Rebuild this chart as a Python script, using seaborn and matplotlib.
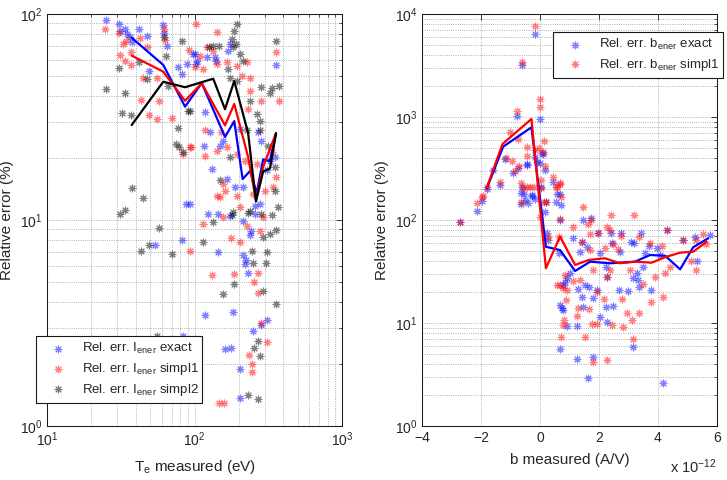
import numpy as np
import matplotlib.pyplot as plt
import seaborn as sns

sns.set_theme(context='paper', style='white')
plt.rcParams['font.family'] = ['Liberation Sans', 'DejaVu Sans']
plt.rcParams['mathtext.fontset'] = 'custom'
plt.rcParams['mathtext.rm'] = 'Liberation Sans'
plt.rcParams['mathtext.it'] = 'Liberation Sans:italic'
plt.rcParams['mathtext.bf'] = 'Liberation Sans:bold'
plt.rcParams['mathtext.sf'] = 'Liberation Sans'
plt.rcParams['axes.edgecolor'] = 'k'
plt.rcParams['axes.linewidth'] = 0.75

BLUE, RED, BLACK = '#0000ff', '#ff0000', '#000000'

# ---- left panel: relative error vs Te ----
te_exact = [25.1, 30.6, 31.3, 33.8, 35.1, 36.5, 37.6, 42.2, 47.8, 61.4, 62.1, 65.4, 49.3, 77.6, 88.6, 82.0,
            100.8, 101.8, 88, 174, 169, 98, 103.5, 121, 137.7, 140, 359, 117.8, 127.4, 157, 149, 203.5, 270,
            284, 351, 325, 308, 130.7, 165, 188, 214, 257, 278, 93, 124, 145, 174, 257, 116, 212, 240, 238,
            144, 214, 223, 220, 231, 54, 82, 84, 118, 182, 310, 248, 161, 176, 203, 203, 284]
err_exact = [93.2, 89.4, 82.9, 84.6, 80, 77.4, 72.8, 85, 78, 88, 80.5, 70.2, 52.7, 55.5, 57.5, 51.2,
             63.9, 57.2, 12, 71.5, 66.3, 63.9, 59.3, 61.5, 61.5, 59.3, 56.8, 33.6, 26.7, 24.2, 22.9, 27.7, 26.7,
             24.2, 20.2, 19.4, 17.4, 17.7, 15.8, 14.4, 14.4, 11.7, 12, 12, 10.7, 10.7, 10.5, 10.7, 22.9, 9.9, 8.85, 8.45,
             7, 6.8, 6.4, 6.1, 5.5, 7.6, 8, 2.73, 3.44, 3.56, 3.27, 2.9, 2.36, 2.4, 1.89, 1.36, 3.1]

te_simpl1 = [24.7, 30.9, 32.6, 34.3, 31.3, 33.8, 37.2, 37.1, 42.7, 47.8, 44.6, 55.5, 43.2, 49.3, 56, 57.8,
             70.3, 62.1, 63.1, 92, 102.4, 94.4, 83.3, 141.4, 355, 121, 134, 109, 141.4, 165, 193, 226, 209,
             238, 100.8, 115, 376, 238, 231, 284, 118, 152, 141.4, 118, 93, 165, 193, 220, 264, 333, 357, 343,
             157, 161, 141.4, 149, 193, 251, 300, 203.5, 292, 157, 115, 226, 278, 177, 203.5, 93, 132, 186,
             270, 253, 270, 284, 310, 234, 245, 245, 147, 158]
err_simpl1 = [84.6, 81.3, 71.5, 74.2, 63.2, 59.3, 56.3, 65.2, 76.5, 68.9, 49.1, 49.1, 38.2, 32.4, 30.9, 37.9,
              31.2, 84.6, 74.8, 66.9, 89.4, 22.7, 20.9, 82.1, 65.3, 69.1, 66.3, 62.7, 57.2, 58.3, 56.2, 58.3, 50.2,
              49.1, 55.1, 54.1, 37.7, 42.4, 34.6, 37.7, 27.2, 26.7, 21.7, 20.5, 22.7, 22.5, 20.9, 19.3, 18.7, 21.3,
              16.1, 14.4, 15, 13.9, 13.1, 13, 13.1, 13.4, 13.9, 11.5, 10.3, 10.3, 9.6, 9.3, 8.8, 8.15, 7.85, 7.05,
              5.4, 5.45, 5.5, 5.0, 4.4, 3.15, 2.55, 2.21, 2.0, 1.82, 1.29, 1.3]

te_simpl2 = [25, 30.9, 34, 32.2, 37.1, 42.2, 47.3, 62.1, 82, 63.8, 65.9, 77.6, 75.4, 78.8, 83.3, 37.6, 44.6,
             31.3, 34, 90.6, 193, 185, 180, 191, 181, 357, 203.5, 214, 147, 134, 126, 281, 333, 376, 325, 169,
             174, 193, 93, 238, 264, 278, 226, 278, 316, 351, 174, 149, 351, 371, 183, 238, 282, 132.8, 179,
             231, 333, 355, 292, 325, 115, 244, 310, 248, 305, 186, 157, 290, 357, 270, 254, 278, 229, 270,
             57.8, 49.3, 43.4, 70.3, 55.5]
err_simpl2 = [43.1, 54.7, 41.3, 33.2, 32.4, 58.3, 48.3, 77.2, 74.2, 62.5, 44.8, 27.9, 23.4, 22.5, 21.5, 14.3,
              12.8, 10.7, 11.2, 33.9, 89, 83, 75.4, 71.5, 69, 74, 63.9, 59.3, 69.7, 69.7, 69, 44.4, 43.6, 44.8,
              41.4, 54.1, 49.1, 47.5, 34, 38, 32.7, 30.4, 27.2, 27.2, 22.9, 18, 20.2, 15.7, 13.8, 11.5, 10.9, 11.1,
              10.7, 9.75, 10.6, 10.8, 10.6, 8.95, 8.25, 8.55, 7.8, 7.05, 6.99, 6.15, 6.15, 4.88, 4.36, 4.54, 3.9,
              2.6, 2.38, 2.19, 1.41, 1.35, 9.1, 7.6, 7.05, 6.84, 2.73]

# binned means (lines)
bin_te_exact = [37.5, 61.4, 86.3, 112, 161, 186, 212, 238, 264, 292, 324, 357]
bin_err_exact = [76.7, 56.6, 35.5, 46.2, 25.3, 30.2, 15.8, 17.3, 13.5, 19.7, 19.3, 26.2]
bin_te_simpl1 = [37.5, 61.4, 86.3, 112, 161, 186, 231, 261, 292, 357]
bin_err_simpl1 = [62.8, 52.5, 37.9, 46.1, 28.8, 36.6, 20.2, 12.5, 18.1, 26.4]
bin_te_simpl2 = [37.5, 61.4, 86.3, 134, 161, 186, 231, 261, 292, 325, 357]
bin_err_simpl2 = [28.9, 46.9, 44.1, 48.5, 34.5, 47.3, 26.4, 12.3, 17.2, 17.8, 26.4]

# ---- right panel: relative error vs b (units of 1e-12 A/V) ----
b_exact = [-2.72, -2.15, -1.96, -1.81, -1.58, -1.19, -0.79, -0.62, -0.16, 0.0, -0.93, -0.74, -0.45, -0.17,
           -0.11, 0.0, 0.06, 0.09, 0.17, -1.36, -0.64, -0.51, -0.28, -0.64, 0.44, 0.68, 0.72, -0.44, -0.27,
           -0.41, -0.16, 0.04, 0.20, 0.58, 0.54, -0.55, -0.61, 0.18, 0.24, 0.27, 0.63, 1.13, 1.47, 1.72, 1.98,
           2.41, 2.74, 3.41, 4.29, 4.86, 5.25, 5.76, 1.41, 1.58, 1.36, 2.03, 2.43, 2.71, 3.07, 3.19, 3.69, 3.56,
           3.98, 4.07, 5.31, 2.24, 0.90, 1.02, 0.85, 0.77, 1.53, 1.67, 1.30, 1.92, 2.28, 1.41, 1.81, 1.47, 0.68,
           0.74, 0.79, 2.03, 0.90, 1.26, 2.24, 2.46, 2.28, 2.69, 2.97, 3.14, 3.30, 3.31, 3.37, 3.75, 3.50, 0.68,
           1.26, 1.79, 3.14, 1.64, 4.16, 0.69]
err_b_exact = [96, 123, 153, 199, 306, 388, 1030, 3200, 6330, 956, 288, 318, 342, 412, 363, 360, 444, 434, 306,
               219, 182, 156, 175, 143, 235, 178, 140, 350, 172, 146, 160, 208, 151, 179, 149, 179, 208, 120, 74.3,
               63.9, 47.5, 66.4, 100, 104, 75, 74.3, 75.3, 75.3, 80, 64, 68, 71.5, 61, 55, 49, 48, 60, 49, 61.5, 60,
               56, 47.5, 53, 45.7, 40.3, 34.7, 27.6, 30.8, 25.2, 23.4, 23.4, 22.2, 21.2, 20.9, 27.8, 18, 17.4, 14.4,
               15, 13.9, 13.4, 11.4, 9.35, 9.35, 14.4, 14.6, 10.3, 20.9, 20.6, 27.6, 30.8, 26.1, 22.2, 20.9, 35.2,
               5.6, 4.44, 4.71, 5.81, 2.9, 2.6, 100]

b_simpl1 = [-2.72, -2.14, -1.98, -1.81, -1.16, -0.94, -0.79, -0.62, -0.17, 0.0, 0.0, -1.02, -0.74, -0.45, -0.85,
            -0.72, -0.45, -0.17, -0.03, 0.09, 0.15, 0.17, -1.36, -0.64, -0.57, -0.45, -0.34, -0.20, -0.65, 0.05,
            0.05, 0.44, 0.54, 0.68, 0.72, 0.15, -1.94, 0.20, 0.58, 0.69, 1.47, 2.41, 3.19, 0.69, 0.01, 0.27, 0.63,
            1.13, 1.64, 1.69, 1.98, 2.37, 2.26, 2.75, 3.37, 4.29, 4.86, 5.28, 5.54, 5.63, 1.41, 1.69, 2.20, 2.47,
            2.65, 3.73, 4.13, 4.41, 5.11, 5.29, 2.37, 1.79, 0.85, 0.56, 0.68, 0.79, 0.90, 0.88, 1.13, 1.36, 1.92,
            2.26, 2.18, 1.29, 1.67, 1.26, 0.82, 0.79, 1.75, 1.92, 2.43, 2.80, 3.11, 2.96, 3.37, 2.77, 3.05, 3.50,
            3.76, 4.16, 3.90, 4.24, 0.71, 1.53, 1.79, 2.28, 3.14, 1.73]
err_b_simpl1 = [96, 145, 168, 208, 403, 376, 1143, 3440, 7650, 1495, 1243, 710, 607, 515, 301, 334, 418, 478,
                497, 460, 589, 337, 235, 227, 203, 208, 208, 207, 150, 203, 244, 263, 207, 230, 168, 149, 172, 151,
                208, 224, 133, 113, 112, 102, 108, 69, 69, 85, 91, 73, 75, 80, 86, 70, 69, 80, 64, 64, 73, 59, 61.5,
                51, 53, 58, 52, 59.4, 56, 35.2, 40.3, 32.7, 32.7, 32.7, 29.2, 23.4, 23.4, 21.7, 20.9, 16.7, 25.7,
                26.1, 20.2, 28.2, 17, 13.9, 13.6, 11.7, 10.7, 9.55, 9.8, 9.8, 9.55, 9.1, 10.7, 12.4, 12.4, 17, 32.7,
                23.9, 16.1, 17.7, 27.8, 30.8, 7.36, 7.36, 4.21, 4.37, 6.95, 100]

bin_b_exact = [-1.80, -1.25, -0.29, 0.20, 0.68, 1.19, 1.70, 2.37, 3.22, 3.73, 4.24, 4.75, 5.19, 5.70]
bin_err_b_exact = [203, 515, 794, 55, 51, 32, 39.4, 38, 39.4, 45.7, 45, 33.2, 54.3, 66.4]
bin_b_simpl1 = [-1.80, -1.27, -0.29, 0.20, 0.68, 1.19, 1.65, 2.20, 2.71, 3.22, 3.78, 4.29, 4.75, 5.19, 5.65]
bin_err_b_simpl1 = [208, 547, 957, 34, 69, 36.6, 40.9, 42.5, 38, 39.4, 38.5, 44, 48.2, 49.2, 61.5]

fig = plt.figure(figsize=(7.27, 4.8), dpi=100)
ax1 = fig.add_axes([47 / 727, 54 / 480, 295 / 727, 412 / 480])
ax2 = fig.add_axes([422 / 727, 54 / 480, 295 / 727, 412 / 480])

star = (8, 2, 0)
sk = dict(marker=star, s=24, linewidth=0.8, alpha=0.5)

# left
ax1.set_xscale('log')
ax1.set_yscale('log')
sns.scatterplot(x=te_exact, y=err_exact, color=BLUE, ax=ax1, **sk)
sns.scatterplot(x=te_simpl1, y=err_simpl1, color=RED, ax=ax1, **sk)
sns.scatterplot(x=te_simpl2, y=err_simpl2, color=BLACK, ax=ax1, **sk)
sns.lineplot(x=bin_te_exact, y=bin_err_exact, color=BLUE, lw=1.6, estimator=None, sort=False, ax=ax1)
sns.lineplot(x=bin_te_simpl1, y=bin_err_simpl1, color=RED, lw=1.6, estimator=None, sort=False, ax=ax1)
sns.lineplot(x=bin_te_simpl2, y=bin_err_simpl2, color=BLACK, lw=1.6, estimator=None, sort=False, ax=ax1)
ax1.set_xlim(10, 1000)
ax1.set_ylim(1, 100)
ax1.set_xlabel(r'T$_{\rm e}$ measured (eV)', fontsize=11, labelpad=6)
ax1.set_ylabel('Relative error (%)', fontsize=11, labelpad=4)

leg_labels1 = [r'Rel. err. I$_{\rm ener}$ exact', r'Rel. err. I$_{\rm ener}$ simpl1',
               r'Rel. err. I$_{\rm ener}$ simpl2']
leg1 = ax1.legend(handles=ax1.collections[:3], labels=leg_labels1, loc='lower left',
                  bbox_to_anchor=(-11 / 295, 23 / 412, 166 / 295, 60 / 412), mode='expand',
                  borderaxespad=0, fontsize=9.5, handlelength=2.6, handletextpad=0.5,
                  labelspacing=0.35, fancybox=False, edgecolor='k', framealpha=1)
leg1.get_frame().set_linewidth(0.8)

# right
ax2.set_yscale('log')
sns.scatterplot(x=b_exact, y=err_b_exact, color=BLUE, ax=ax2, **sk)
sns.scatterplot(x=b_simpl1, y=err_b_simpl1, color=RED, ax=ax2, **sk)
sns.lineplot(x=bin_b_exact, y=bin_err_b_exact, color=BLUE, lw=1.6, estimator=None, sort=False, ax=ax2)
sns.lineplot(x=bin_b_simpl1, y=bin_err_b_simpl1, color=RED, lw=1.6, estimator=None, sort=False, ax=ax2)
ax2.set_xlim(-4, 6)
ax2.set_ylim(1, 1e4)
ax2.set_xticks([-4, -2, 0, 2, 4, 6])
ax2.set_xticklabels(['\u22124', '\u22122', '0', '2', '4', '6'])
ax2.set_xlabel('b measured (A/V)', fontsize=11, labelpad=6)
ax2.set_ylabel('Relative error (%)', fontsize=11, labelpad=4)
ax2.text(1.0, -0.1, r'x 10$^{-12}$', transform=ax2.transAxes, ha='right', va='center', fontsize=10.5)

leg_labels2 = [r'Rel. err. b$_{\rm ener}$ exact', r'Rel. err. b$_{\rm ener}$ simpl1']
leg2 = ax2.legend(handles=ax2.collections[:2], labels=leg_labels2, loc='lower left',
                  bbox_to_anchor=(131 / 295, 348 / 412, 170 / 295, 44 / 412), mode='expand',
                  borderaxespad=0, fontsize=9.5, handlelength=2.6, handletextpad=0.5,
                  labelspacing=0.35, fancybox=False, edgecolor='k', framealpha=1)
leg2.get_frame().set_linewidth(0.8)

for ax in (ax1, ax2):
    ax.grid(True, which='both', linestyle=':', color='0.6', linewidth=0.6)
    ax.tick_params(which='both', direction='in', top=True, right=True, labelsize=10, color='k')
    ax.tick_params(which='major', length=4, width=0.6)
    ax.tick_params(which='minor', length=2, width=0.5)
    for sp in ax.spines.values():
        sp.set_visible(True)
        sp.set_color('k')

fig.savefig('out.png', dpi=100)
